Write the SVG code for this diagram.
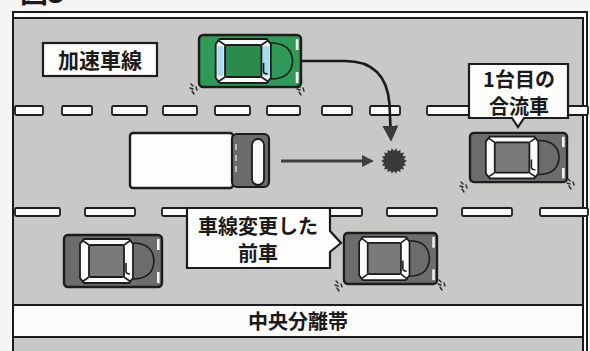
<svg xmlns="http://www.w3.org/2000/svg" xmlns:xlink="http://www.w3.org/1999/xlink" width="590" height="351" viewBox="0 0 590 351">
  <style>
    .dash { fill: #fafafa; stroke: #1e1e1e; stroke-width: 1.8; }
    .bubble { fill: #fdfdfb; stroke: #1c1c1c; stroke-width: 2.2; stroke-linejoin: miter; }
    .lbl { font-family: "Noto Sans CJK JP", "Noto Sans", sans-serif; font-weight: 700; fill: #1a1a1a; text-anchor: middle; }
    .flow { fill: none; stroke: #1a1a1a; stroke-width: 2.6; }
    .push { fill: none; stroke: #3e3e3e; stroke-width: 3; }
    .car-body { fill: var(--body, #6c6c6c); stroke: #1c1c1c; stroke-width: 2.4; }
    .car-roof { fill: var(--roof, #7a7a7a); stroke: #1c1c1c; stroke-width: 1.8; }
    .car-glass { fill: #fbfbfb; stroke: #1c1c1c; stroke-width: 1.8; }
    .car-shield { fill: var(--shield, #fbfbfb); }
    .car-line { fill: none; stroke: #1c1c1c; stroke-width: 1.6; }
    .skid { fill: none; stroke: #2a2a2a; stroke-width: 1.4; stroke-linecap: round; }
  </style>
  <defs>
    <!-- top view of a passenger car facing right, 100 x 54 -->
    <symbol id="car" viewBox="0 0 100 54" preserveAspectRatio="none" overflow="visible">
      <rect class="car-body" x="1" y="1" width="98" height="52" rx="4"/>
      <!-- cabin with glass -->
      <path class="car-glass" d="M21,5 H66 L70,10 V44 L66,49 H21 L17,44 V10 Z"/>
      <rect class="car-shield" x="18.5" y="12" width="6" height="30" rx="2"/>
      <rect class="car-shield" x="62" y="12" width="6.5" height="30" rx="2"/>
      <rect class="car-roof" x="26" y="11" width="35" height="32" rx="1.5"/>
      <path class="car-line" stroke-width="3" d="M26,11 L19,6 M61,11 L68,6 M26,43 L19,48 M61,43 L68,48"/>
      <!-- hood -->
      <path class="car-line" d="M70,9 Q90,9 91,27 Q90,45 70,45"/>
      <path class="car-line" d="M63,29 V37 Q63,40 67,40"/>
      <!-- headlights -->
      <rect x="94" y="5" width="2.6" height="11" fill="#f4f4f4"/>
      <rect x="94" y="38" width="2.6" height="11" fill="#f4f4f4"/>
    </symbol>
    <!-- tyre squeal marks -->
    <symbol id="skid" viewBox="0 0 10 12" overflow="visible">
      <path class="skid" d="M2,1 L4,3 M1,5 L4,6 M3,8 L5,11 M7,4 L8,7"/>
    </symbol>
    <marker id="head" viewBox="0 0 12 12" refX="2" refY="6" markerWidth="12" markerHeight="12" markerUnits="userSpaceOnUse" orient="auto">
      <path d="M0,0 L12,6 L0,12 Z" fill="#3e3e3e"/>
    </marker>
    <marker id="head2" viewBox="0 0 14 14" refX="2" refY="7" markerWidth="16" markerHeight="16" markerUnits="userSpaceOnUse" orient="auto">
      <path d="M0,0 L14,7 L0,14 Z" fill="#3a3a3a"/>
    </marker>
  </defs>

  <!-- paper -->
  <rect x="0" y="0" width="590" height="351" fill="#f5f5f3"/>
  <text x="20" y="3" font-family="Noto Sans CJK JP, sans-serif" font-weight="700" font-size="28" fill="#1a1a1a">図3</text>

  <!-- road surface and frame -->
  <g id="road">
    <rect x="13" y="12" width="574" height="350" fill="#fcfcfa" stroke="#1a1a1a" stroke-width="2"/>
    <rect x="14" y="19" width="568" height="340" fill="#c8c8c6"/>
    <path d="M13,18 H583 V351" fill="none" stroke="#1a1a1a" stroke-width="2"/>
    <!-- central reservation -->
    <rect x="14" y="305" width="568" height="32" fill="#fbfbf9"/>
    <path d="M14,305 H583 M14,337 H583" stroke="#1a1a1a" stroke-width="2"/>
  </g>

  <!-- lane markings -->
  <g id="lane-upper">
    <rect class="dash" x="15" y="106" width="28" height="9" rx="1.5"/>
    <rect class="dash" x="62" y="106" width="30" height="9" rx="1.5"/>
    <rect class="dash" x="112" y="106" width="35" height="9" rx="1.5"/>
    <rect class="dash" x="163" y="106" width="34" height="9" rx="1.5"/>
    <rect class="dash" x="215" y="106" width="35" height="9" rx="1.5"/>
    <rect class="dash" x="267" y="106" width="33" height="9" rx="1.5"/>
    <rect class="dash" x="322" y="106" width="30" height="9" rx="1.5"/>
    <rect class="dash" x="370" y="106" width="30" height="9" rx="1.5"/>
    <rect class="dash" x="427" y="106" width="46" height="9" rx="1.5"/>
    <rect class="dash" x="566" y="106" width="22" height="9" rx="1.5"/>
  </g>
  <g id="lane-lower">
    <rect class="dash" x="15" y="208" width="45" height="8" rx="1.5"/>
    <rect class="dash" x="85" y="208" width="50" height="8" rx="1.5"/>
    <rect class="dash" x="162" y="208" width="30" height="8" rx="1.5"/>
    <rect class="dash" x="325" y="208" width="37" height="8" rx="1.5"/>
    <rect class="dash" x="387" y="208" width="50" height="8" rx="1.5"/>
    <rect class="dash" x="462" y="208" width="50" height="8" rx="1.5"/>
    <rect class="dash" x="540" y="208" width="48" height="8" rx="1.5"/>
  </g>

  <!-- merging car on the acceleration lane -->
  <g id="car-merging" style="--body:#2f9a57; --roof:#2b8a4d; --shield:#a6dcef">
    <use href="#car" x="198" y="34" width="104" height="54"/>
    <use href="#skid" x="189" y="83" width="10" height="12"/>
    <use href="#skid" x="296" y="84" width="10" height="12"/>
  </g>

  <!-- truck -->
  <g id="truck">
    <rect x="130" y="133" width="103" height="55" rx="3" fill="#fdfdfd" stroke="#1c1c1c" stroke-width="2.4"/>
    <rect x="232" y="134" width="37" height="53" rx="5" fill="#6b6b6b" stroke="#1c1c1c" stroke-width="2.2"/>
    <path d="M236,144 V150 M236,155 V161 M236,166 V172" stroke="#e0e0e0" stroke-width="1.4"/>
    <rect x="252" y="139" width="12" height="46" rx="6" fill="#fbfbfb" stroke="#1c1c1c" stroke-width="1.8"/>
  </g>

  <!-- first merging car -->
  <g id="car-first">
    <use href="#car" x="469" y="132" width="99" height="51"/>
    <use href="#skid" x="459" y="181" width="10" height="12"/>
    <use href="#skid" x="566" y="178" width="10" height="12"/>
  </g>

  <!-- cars in the overtaking lane -->
  <g id="car-lower-left">
    <use href="#car" x="63" y="234" width="100" height="54"/>
  </g>
  <g id="car-lane-change">
    <use href="#car" x="343" y="232" width="95" height="53"/>
    <use href="#skid" x="334" y="280" width="10" height="12"/>
    <use href="#skid" x="437" y="279" width="10" height="12"/>
  </g>

  <!-- collision point -->
  <g id="impact">
    <polygon fill="#3a3a3a" points="407,161 403.9,162.7 406.2,165.5 402.7,166 404,169.4 400.4,168.7 400.5,172.3 397.4,170.4 396.3,173.8 394,171 391.7,173.8 390.6,170.4 387.5,172.3 387.6,168.7 384,169.4 385.3,166 381.8,165.5 384.2,162.7 381,161 384.2,159.3 381.8,156.6 385.3,156 384,152.6 387.6,153.3 387.5,149.7 390.6,151.6 391.7,148.2 394,151 396.3,148.2 397.4,151.6 400.5,149.7 400.4,153.3 404,152.6 402.7,156 406.2,156.6 403.9,159.3"/>
    <circle cx="394" cy="161" r="10.5" fill="#3a3a3a"/>
  </g>

  <!-- movements -->
  <g id="connectors">
    <path class="flow" d="M302,61 H345 Q386,61 389.5,104 L390.5,128" marker-end="url(#head2)"/>
    <path class="push" d="M281,161 H364" marker-end="url(#head)"/>
  </g>

  <!-- labels -->
  <g id="label-accel">
    <rect class="bubble" x="43" y="43" width="114" height="33"/>
    <text class="lbl" x="100" y="68" font-size="21">加速車線</text>
  </g>
  <g id="label-first">
    <path class="bubble" d="M469,64 H568 V118 H524 L518,127 L512,118 H469 Z"/>
    <text class="lbl" x="519" y="87" font-size="20">1台目の</text>
    <text class="lbl" x="519" y="114" font-size="20">合流車</text>
  </g>
  <g id="label-lane-change">
    <path class="bubble" d="M187,208 H330 V231 L341,243 L330,252 V268 H187 Z"/>
    <text class="lbl" x="258" y="234" font-size="20">車線変更した</text>
    <text class="lbl" x="258" y="261" font-size="20">前車</text>
  </g>
  <g id="label-median">
    <text class="lbl" x="298" y="329" font-size="20">中央分離帯</text>
  </g>
</svg>
